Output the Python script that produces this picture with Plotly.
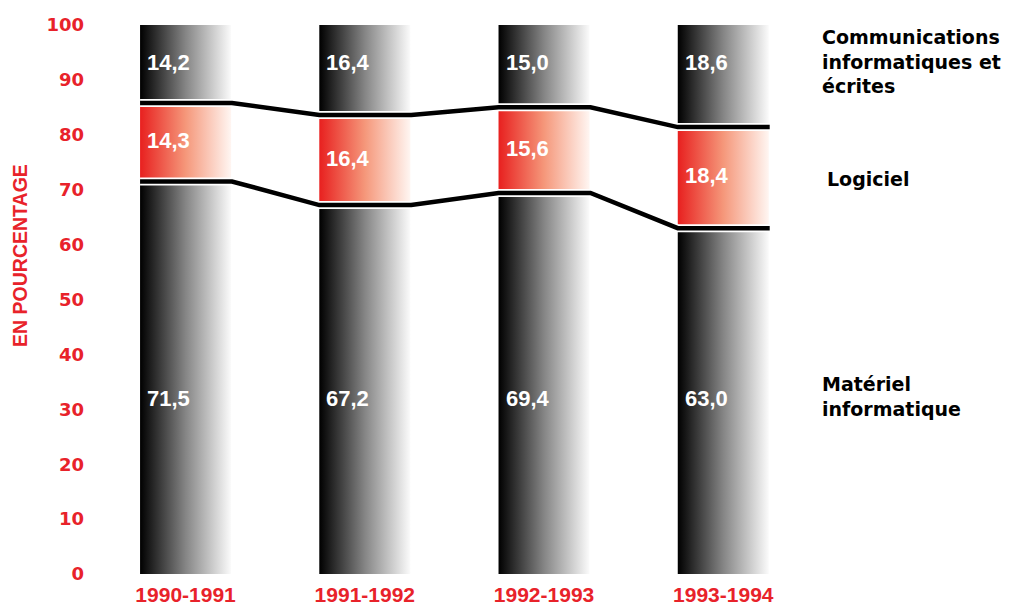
import plotly.graph_objects as go

categories = ["1990-1991", "1991-1992", "1992-1993", "1993-1994"]
materiel = [71.5, 67.2, 69.4, 63.0]
logiciel = [14.3, 16.4, 15.6, 18.4]
communications = [14.2, 16.4, 15.0, 18.6]
materiel_labels = ["71,5", "67,2", "69,4", "63,0"]
logiciel_labels = ["14,3", "16,4", "15,6", "18,4"]
communications_labels = ["14,2", "16,4", "15,0", "18,6"]
y_ticks = [0, 10, 20, 30, 40, 50, 60, 70, 80, 90, 100]

RED = "#e8222a"
HALF = 0.254
DARK_SCALE = [[0, "#000000"], [0.5, "#858585"], [1, "#fbfbfb"]]
RED_SCALE = [[0, "#e8201f"], [0.5, "#f5977a"], [1, "#fff6f2"]]

fig = go.Figure()

def add_segment(i, b, t, scale):
    fig.add_trace(go.Scatter(
        x=[i - HALF, i + HALF, i + HALF, i - HALF, i - HALF],
        y=[b, b, t, t, b],
        mode="none",
        fill="toself",
        fillgradient=dict(type="horizontal", colorscale=scale),
        hoverinfo="skip",
        showlegend=False,
    ))

for i in range(len(categories)):
    b1 = materiel[i]
    b2 = materiel[i] + logiciel[i]
    top = b2 + communications[i]
    add_segment(i, 0, b1, DARK_SCALE)
    add_segment(i, b1, b2, RED_SCALE)
    add_segment(i, b2, top, DARK_SCALE)

# boundary lines
for series in (materiel, [m + l for m, l in zip(materiel, logiciel)]):
    xs, ys = [], []
    for i, v in enumerate(series):
        xs += [i - HALF, i + HALF + 0.005]
        ys += [v, v]
    fig.add_trace(go.Scatter(x=xs, y=ys, mode="lines",
                             line=dict(color="white", width=8),
                             hoverinfo="skip", showlegend=False))
    fig.add_trace(go.Scatter(x=xs, y=ys, mode="lines",
                             line=dict(color="black", width=4.5),
                             hoverinfo="skip", showlegend=False))

label_font = dict(family="Liberation Sans, Arial, sans-serif", size=22, color="white")
for i in range(len(categories)):
    b1 = materiel[i]
    b2 = materiel[i] + logiciel[i]
    for yv, txt in ((31.9, materiel_labels[i]),
                    ((b1 + b2) / 2 + 0.3, logiciel_labels[i]),
                    (93.2, communications_labels[i])):
        fig.add_annotation(x=i - HALF, y=yv, xref="x", yref="y", text="<b>%s</b>" % txt,
                           showarrow=False, xanchor="left", yanchor="middle",
                           xshift=5, font=label_font)

side_font = dict(family="DejaVu Sans, sans-serif", size=19, color="black")
fig.add_annotation(xref="paper", yref="y", x=1.0115, y=93.3,
                   text="<b>Communications<br>informatiques et<br>écrites</b>",
                   showarrow=False, xanchor="left", yanchor="middle", align="left",
                   font=side_font)
fig.add_annotation(xref="paper", yref="y", x=1.019, y=72.0,
                   text="<b>Logiciel</b>", showarrow=False, xanchor="left",
                   yanchor="middle", align="left", font=side_font)
fig.add_annotation(xref="paper", yref="y", x=1.0115, y=32.3,
                   text="<b>Matériel<br>informatique</b>", showarrow=False,
                   xanchor="left", yanchor="middle", align="left", font=side_font)

fig.add_annotation(xref="paper", yref="y", x=-0.1332, y=58.1,
                   text="<b>EN POURCENTAGE</b>", textangle=-90, showarrow=False,
                   xanchor="center", yanchor="middle",
                   font=dict(family="Liberation Sans Narrow, Liberation Sans, Arial, sans-serif",
                             size=19.5, color=RED))

fig.update_layout(
    width=1011, height=606,
    margin=dict(l=105, r=207, t=17, b=40),
    paper_bgcolor="white", plot_bgcolor="white",
    xaxis=dict(range=[-0.405, 3.495], tickmode="array",
               tickvals=list(range(len(categories))),
               ticktext=["<b>%s</b>" % c for c in categories],
               showgrid=False, zeroline=False, showline=False, ticks="",
               ticklabelstandoff=6, automargin=False,
               tickfont=dict(family="Liberation Sans, Arial, sans-serif", size=21, color=RED)),
    yaxis=dict(range=[0, 100], tickmode="array", tickvals=y_ticks,
               ticktext=["<b>%d</b>" % v for v in y_ticks],
               showgrid=False, zeroline=False, showline=False, ticks="",
               ticklabelstandoff=28, automargin=False,
               tickfont=dict(family="DejaVu Sans, sans-serif", size=18, color=RED)),
)

fig.write_html("out.html")
